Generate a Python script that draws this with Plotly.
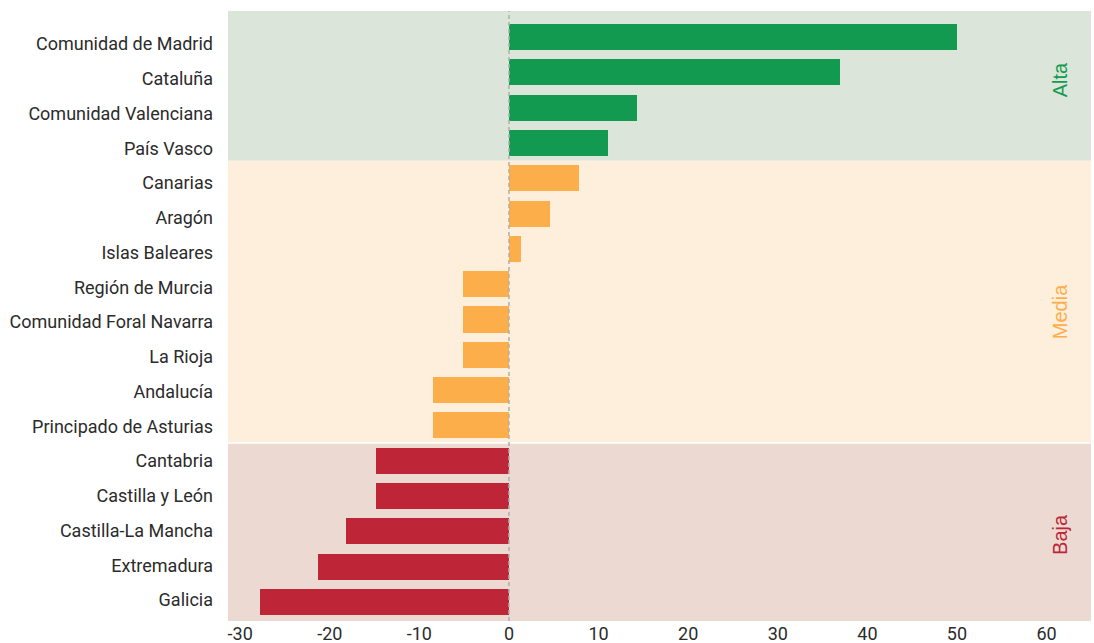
import plotly.graph_objects as go

# Regions, ordered top to bottom, with their index values
regions = [
    "Comunidad de Madrid", "Cataluña", "Comunidad Valenciana", "País Vasco",
    "Canarias", "Aragón", "Islas Baleares", "Región de Murcia",
    "Comunidad Foral Navarra", "La Rioja", "Andalucía", "Principado de Asturias",
    "Cantabria", "Castilla y León", "Castilla-La Mancha", "Extremadura", "Galicia",
]
values = [50.0, 37.0, 14.3, 11.1,
          7.8, 4.6, 1.3, -5.1,
          -5.1, -5.1, -8.5, -8.5,
          -14.8, -14.8, -18.2, -21.3, -27.8]
groups = ["Alta"] * 4 + ["Media"] * 8 + ["Baja"] * 5

x_ticks = [-30, -20, -10, 0, 10, 20, 30, 40, 50, 60]
x_tick_text = [str(v) for v in x_ticks]

group_bar = {"Alta": "#129b50", "Media": "#fcae4b", "Baja": "#be2537"}
group_band = {"Alta": "#dbe5d9", "Media": "#feefdd", "Baja": "#ecd9d1"}
group_label_y = {"Alta": 1.22, "Media": 7.79, "Baja": 14.1}

idx = list(range(len(regions)))

fig = go.Figure()
fig.add_trace(go.Bar(
    x=values, y=idx, orientation="h",
    marker=dict(color=[group_bar[g] for g in groups], line=dict(width=0)),
    width=0.74, showlegend=False, hoverinfo="x+text", text=regions,
    textposition="none",
))
# helper trace so the label axis is drawn
fig.add_trace(go.Scatter(x=[None], y=[None], yaxis="y2", showlegend=False,
                         hoverinfo="skip"))

y_top, y_bottom = -0.74, 16.54

# background bands per group
bounds = {"Alta": (y_top, 3.5), "Media": (3.5, 11.5), "Baja": (11.5, y_bottom)}
for g, (a, b) in bounds.items():
    fig.add_shape(type="rect", xref="paper", yref="y", x0=0, x1=1, y0=a, y1=b,
                  fillcolor=group_band[g], line=dict(width=0), layer="below")
fig.add_shape(type="line", xref="paper", yref="y", x0=0, x1=1, y0=11.5, y1=11.5,
              line=dict(color="white", width=1.5), layer="below")

# zero reference line
fig.add_shape(type="line", xref="x", yref="paper", x0=0, x1=0, y0=0, y1=1,
              line=dict(color="#aeaeae", width=1.5, dash="4px,3px"))

# group names, rotated, near the right edge of the plot
for g, yv in group_label_y.items():
    fig.add_annotation(x=0.9676, xref="paper", y=yv, yref="y", text=g,
                       showarrow=False, textangle=-90, xshift=10,
                       font=dict(family="Liberation Sans, Arial, sans-serif",
                                 size=20, color=group_bar[g]))

label_font = dict(family="Roboto, sans-serif", size=18, color="#2b2b2b")

fig.update_layout(
    width=1094, height=643,
    margin=dict(l=228, r=3, t=11, b=22, autoexpand=False),
    paper_bgcolor="white", plot_bgcolor="white",
    bargap=0,
    xaxis=dict(range=[-31.36, 64.96], tickmode="array", tickvals=x_ticks,
               ticktext=x_tick_text, showgrid=False,
               zeroline=False, showline=False, ticks="", tickfont=label_font,
               automargin=False),
    yaxis=dict(range=[y_bottom, y_top], showticklabels=False, showgrid=False,
               zeroline=False, showline=False, ticks="", automargin=False),
    yaxis2=dict(overlaying="y", side="left", range=[16.60, -0.95],
                tickmode="array", tickvals=idx, ticktext=regions,
                tickfont=label_font, showgrid=False, zeroline=False,
                showline=False, ticks="", ticklabelstandoff=14,
                automargin=False),
)

fig.write_html("out.html")
